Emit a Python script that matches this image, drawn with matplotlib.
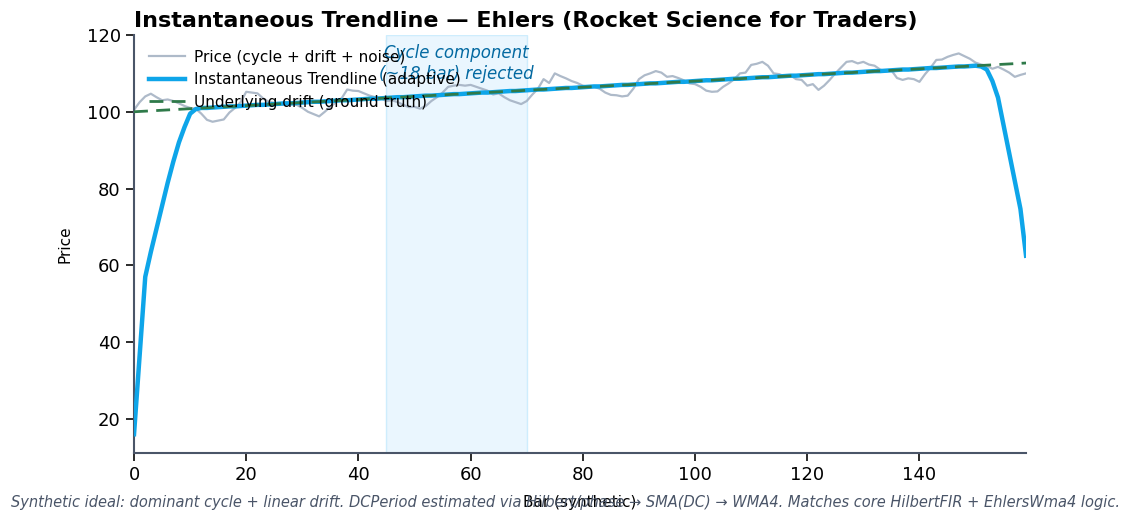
import matplotlib
matplotlib.use("Agg")
import matplotlib.pyplot as plt
import numpy as np

# bar index
bars = np.arange(160)

# synthetic price (cycle + drift + noise)
price = [
    100.5, 102.5, 104.0, 104.7, 103.8, 103.0, 103.2, 102.8, 102.2, 101.5,
    101.0, 100.8, 99.5, 97.9, 97.4, 97.7, 98.0, 99.8, 101.0, 102.5,
    105.2, 105.0, 104.8, 103.5, 102.6, 102.3, 102.0, 101.8, 102.0, 101.8,
    101.0, 100.0, 99.4, 98.8, 100.0, 101.3, 102.5, 103.5, 105.8, 105.5,
    105.4, 104.8, 104.2, 103.8, 103.5, 102.8, 103.0, 102.5, 101.8, 101.2,
    101.3, 100.8, 101.5, 102.8, 103.8, 105.0, 106.5, 106.8, 107.0, 106.8,
    107.0, 106.5, 106.0, 105.5, 104.5, 104.8, 103.8, 103.0, 102.5, 102.0,
    102.8, 104.5, 106.0, 108.5, 107.5, 110.0, 109.3, 108.7, 108.0, 107.5,
    106.8, 106.5, 106.5, 106.0, 105.0, 104.4, 104.3, 104.0, 104.2, 106.0,
    108.5, 109.5, 110.0, 110.6, 110.2, 109.1, 109.3, 108.8, 108.2, 107.4,
    107.2, 106.5, 105.5, 105.2, 105.3, 106.5, 107.4, 108.5, 110.0, 110.2,
    112.2, 112.5, 113.0, 112.0, 110.0, 109.8, 109.2, 109.5, 108.5, 108.3,
    106.8, 107.2, 105.7, 106.8, 108.3, 110.0, 111.5, 113.0, 113.2, 112.6,
    113.0, 112.3, 112.0, 111.0, 110.5, 110.8, 108.8, 108.3, 108.7, 108.5,
    107.8, 109.8, 111.5, 113.5, 113.6, 114.3, 114.8, 115.2, 114.5, 113.8,
    112.8, 112.3, 112.0, 111.2, 111.7, 111.0, 110.2, 109.1, 109.6, 110.0,
]

# instantaneous trendline (adaptive)
trend = [
    16.0, 36.5, 57.0, 63.5, 69.5, 75.5, 81.5, 87.0, 92.0, 96.0,
    99.5, 100.7, 101.0, 101.0, 101.1, 101.2, 101.3, 101.4, 101.4, 101.5,
    101.6, 101.7, 101.8, 101.8, 101.9, 102.0, 102.1, 102.2, 102.2, 102.3,
    102.4, 102.5, 102.6, 102.6, 102.7, 102.8, 102.9, 103.0, 103.0, 103.1,
    103.2, 103.3, 103.4, 103.4, 103.5, 103.6, 103.7, 103.8, 103.8, 103.9,
    104.0, 104.1, 104.2, 104.2, 104.3, 104.4, 104.5, 104.6, 104.6, 104.7,
    104.8, 104.9, 105.0, 105.0, 105.1, 105.2, 105.3, 105.4, 105.4, 105.5,
    105.6, 105.7, 105.8, 105.8, 105.9, 106.0, 106.1, 106.2, 106.2, 106.3,
    106.4, 106.5, 106.6, 106.6, 106.7, 106.8, 106.9, 107.0, 107.0, 107.1,
    107.2, 107.3, 107.4, 107.4, 107.5, 107.6, 107.7, 107.8, 107.8, 107.9,
    108.0, 108.1, 108.2, 108.2, 108.3, 108.4, 108.5, 108.6, 108.6, 108.7,
    108.8, 108.9, 109.0, 109.0, 109.1, 109.2, 109.3, 109.4, 109.4, 109.5,
    109.6, 109.7, 109.8, 109.8, 109.9, 110.0, 110.1, 110.2, 110.2, 110.3,
    110.4, 110.5, 110.6, 110.6, 110.7, 110.8, 110.9, 111.0, 111.0, 111.1,
    111.2, 111.3, 111.4, 111.4, 111.5, 111.6, 111.7, 111.8, 111.8, 111.9,
    112.0, 111.8, 111.0, 108.0, 103.7, 96.4, 89.2, 82.0, 74.7, 62.5,
]

# underlying drift (ground truth) -- straight line between its end points
drift_bars = [0, 159]
drift_vals = [100.0, 112.7]

# rejected cycle window
span_lo, span_hi = 45, 70

fig = plt.figure(figsize=(11.31, 5.2), dpi=100)
ax = fig.add_axes([0.1185, 0.1288, 0.7887, 0.8039])

ax.axvspan(span_lo, span_hi, facecolor="#e0f2fe", edgecolor="#bae6fd",
           alpha=0.65, lw=1, zorder=0)
ax.plot(bars, price, color="#a0aec0", lw=1.6, alpha=0.85,
        label="Price (cycle + drift + noise)", zorder=2)
ax.plot(bars, trend, color="#0ea5e9", lw=3.2,
        label="Instantaneous Trendline (adaptive)", zorder=3)
ax.plot(drift_bars, drift_vals, color="#2f7a4a", lw=2, ls=(0, (5, 3)),
        label="Underlying drift (ground truth)", zorder=4)

ax.text((span_lo + span_hi) / 2, 112.6, "Cycle component\n(~18 bar) rejected",
        ha="center", va="center", fontsize=12, style="italic",
        color="#0369a1", zorder=5)

ax.set_xlim(0, 159)
ax.set_ylim(11.1, 120)
ax.set_yticks([20, 40, 60, 80, 100, 120])
ax.set_xticks([0, 20, 40, 60, 80, 100, 120, 140])

for s in ["top", "right"]:
    ax.spines[s].set_visible(False)
for s in ["left", "bottom"]:
    ax.spines[s].set_color("#4a5568")
    ax.spines[s].set_linewidth(1.5)
ax.tick_params(labelsize=13, length=6, width=1.3, color="#1a1a1a")

ax.set_ylabel("Price", fontsize=11, labelpad=10)
ax.set_xlabel("Bar (synthetic)", fontsize=11, labelpad=8)
ax.set_title("Instantaneous Trendline — Ehlers (Rocket Science for Traders)",
             loc="left", fontsize=16, fontweight="bold", pad=6)

ax.legend(loc="upper left", frameon=False, fontsize=11,
          handlelength=2.4, handletextpad=0.6, borderaxespad=0.55,
          labelspacing=0.5)

fig.text(0.5, 0.025,
         "Synthetic ideal: dominant cycle + linear drift. DCPeriod estimated via Hilbert/phase → SMA(DC) → WMA4. Matches core HilbertFIR + EhlersWma4 logic.",
         ha="center", fontsize=10.5, style="italic", color="#4a5568")

fig.savefig("out.png", dpi=100)
